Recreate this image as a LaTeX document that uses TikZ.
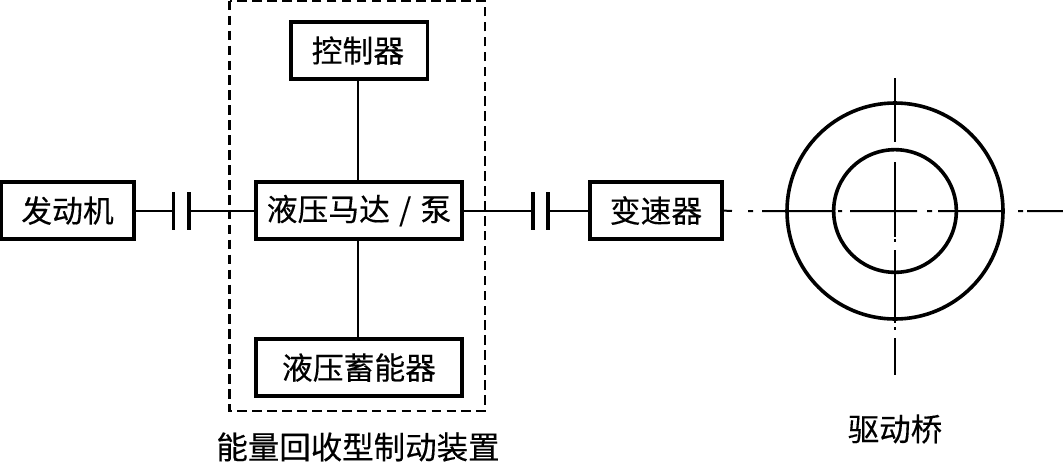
\documentclass[tikz,border=0pt]{standalone}
\usepackage{fontspec}
\setmainfont[FakeBold=0.3]{Noto Sans CJK SC}
\tikzset{
  px/.style={x=0.75pt,y=-0.75pt},
  blockbox/.style={draw,line width=2.9pt,outer sep=0pt,fill=white,inner sep=0pt,anchor=north west,minimum height=42.8pt,font=\fontsize{23.1}{24}\selectfont},
  shaft/.style={line width=1.5pt},
  clutchbar/.style={line width=2.6pt},
  ring/.style={draw,line width=2.7pt,outer sep=0pt},
  caption/.style={font=\fontsize{23.6}{24}\selectfont,inner sep=0pt}
}
\begin{document}
\begin{tikzpicture}[px]
\useasboundingbox (0,0) rectangle (1063,461);
\draw[line width=1.6pt,dash pattern=on 7.2pt off 4pt] (229.5,0.8) rectangle (485,411);
\node[blockbox,minimum width=99.8pt] (engine) at (1,182) {发动机};
\node[blockbox,minimum width=102.4pt] (ctrl) at (291,22) {\hspace{-2pt}控制器};
\node[blockbox,minimum width=154.5pt] (pump) at (256,182) {液压马达\hspace{0.3em}/\hspace{0.3em}泵};
\node[blockbox,minimum width=154.5pt] (acc) at (256,339) {液压蓄能器};
\node[blockbox,minimum width=99pt] (gear) at (590,182) {变速器};
\coordinate (c1a) at (173.5,211); \coordinate (c1b) at (189,211);
\coordinate (c2a) at (533,211); \coordinate (c2b) at (548,211);
\coordinate (axisend) at (1063,211);
\coordinate (vtop) at (895,78); \coordinate (vbot) at (895,375);
\coordinate (vx) at (358,0);
\node[ring,circle,minimum size=162pt,inner sep=0pt] (outer) at (895,211) {};
\node[ring,circle,minimum size=92pt,inner sep=0pt] (inner) at (895,211) {};
\draw[shaft] (engine.east |- c1a) -- (c1a);
\draw[shaft] (c1b) -- (pump.west |- c1b);
\draw[shaft] (pump.east |- c2a) -- (c2a);
\draw[shaft] (c2b) -- (gear.west |- c2b);
\draw[clutchbar] (173.5,192) -- (173.5,230) (189,192) -- (189,230);
\draw[clutchbar] (533,192) -- (533,230) (548,192) -- (548,230);
\draw[shaft] (vx |- ctrl.south) -- (vx |- pump.north);
\draw[shaft] (vx |- pump.south) -- (vx |- acc.north);
\draw[shaft] (gear.east) -- (732,211) (748,211) -- (753,211) (762,211) -- (832,211)
  (838,211) -- (842,211) (850,211) -- (917,211) (927,211) -- (932,211) (938,211) -- (1003,211)
  (1018,211) -- (1023,211) (1027,211) -- (axisend);
\draw[shaft] (vtop) -- (895,142) (895,162) -- (895,237) (895,239) -- (895,242) (895,250) -- (895,323) (895,327) -- (895,330) (895,338) -- (vbot);
\node[caption] (cap1) at (358,447) {能量回收型制动装置};
\node[caption] (cap2) at (895,429) {驱动桥};
\end{tikzpicture}
\end{document}
